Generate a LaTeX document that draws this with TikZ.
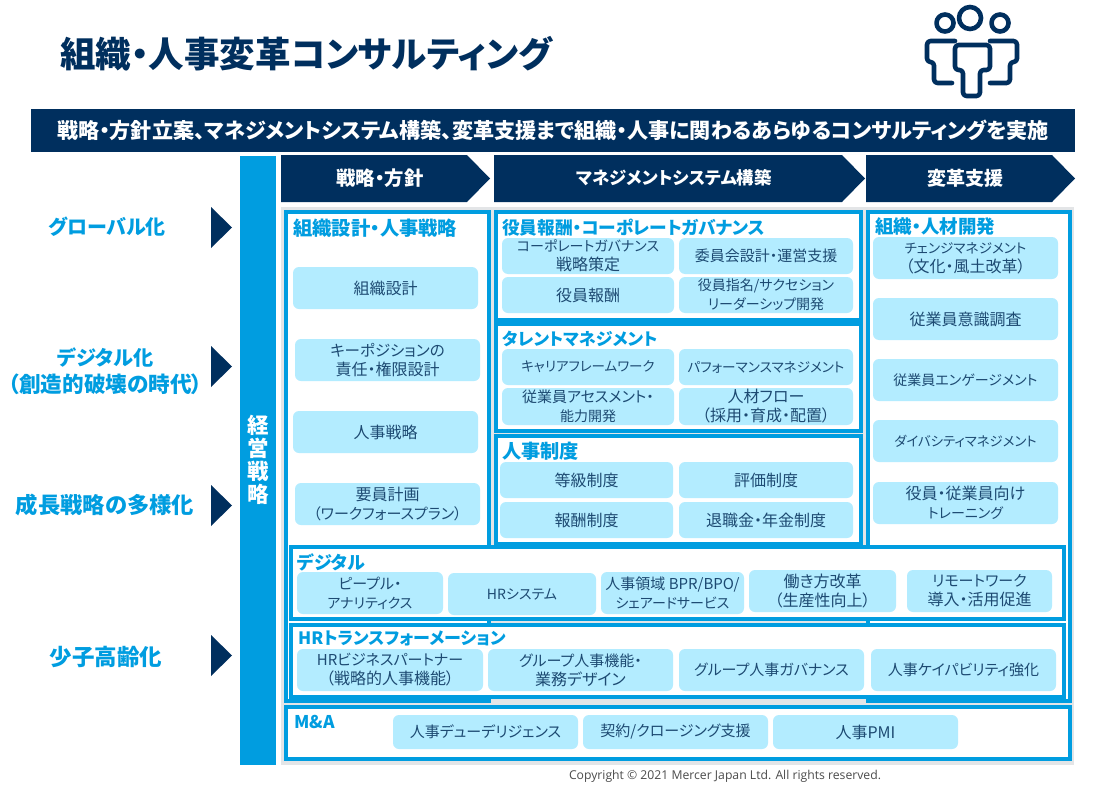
\documentclass[tikz,border=0pt]{standalone}
\usepackage{fontspec}
\setmainfont{Noto Sans CJK JP}[RawFeature=+palt]
\newfontfamily\copyfont{Open Sans}
\definecolor{navy}{HTML}{002F5E}
\definecolor{mblue}{HTML}{009DE0}
\definecolor{lblue}{HTML}{B3ECFF}
\definecolor{ctext}{HTML}{1D4A72}
\definecolor{greybg}{HTML}{E3E5E7}
\newcommand\kj{\fontsize{16}{19}\selectfont}
\newcommand\mx{\fontsize{15}{19}\selectfont}
\newcommand\tk[1]{\fontsize{#1}{20}\selectfont}
\newcommand\dk[1]{\fontsize{#1}{27}\selectfont}
\tikzset{
  cardst/.style={fill=lblue,rounded corners=6pt,inner sep=0pt,outer sep=0pt,text=ctext,align=center,font=\fontsize{14}{19}\selectfont},
  panelst/.style={draw=mblue,line width=3.4pt,fill=white,inner sep=0pt,outer sep=0pt},
  ptitle/.style={anchor=west,inner sep=0pt,text=mblue,font=\bfseries},
  hdr/.style={text=white,inner sep=0pt,font=\bfseries},
  drv/.style={text=mblue,inner sep=0pt,align=center,font=\bfseries},
  tri/.style={fill=navy},
  icon/.style={draw=navy,line width=4.6pt,line join=round,line cap=round,rounded corners=3.5pt},
}
\newcommand\card[6]{\node[cardst,minimum width={(#4-#2)*1pt},minimum height={(#5-#3)*1pt}] (#1) at ({(#2+#4)/2},{(#3+#5)/2}) {#6};}
\newcommand\panel[5]{\node[panelst,minimum width={(#4-#2)*1pt},minimum height={(#5-#3)*1pt}] (#1) at ({(#2+#4)/2},{(#3+#5)/2}) {};}
\newcommand\chev[6]{\fill[navy] (#2,155) -- (#3,155) -- (#4,178.5) -- (#3,202) -- (#2,202) -- cycle; \node[hdr,font=\fontsize{#5}{20}\selectfont\bfseries] (#1) at ({(#2+#3)/2+6},178) {#6};}
\newcommand\tria[2]{\fill[tri] (211,#2-20.5) -- (232,#2) -- (211,#2+20.5) -- cycle;}
\begin{document}
\begin{tikzpicture}[x=1pt,y=-1pt]
\useasboundingbox (0,0) rectangle (1100,795);
\fill[white] (0,0) rectangle (1100,795);
% title
\node[anchor=west,inner sep=0pt,text=navy,font=\fontsize{35.5}{38}\selectfont\bfseries] (title) at (60,54) {組織・人事変革コンサルティング};
% icon
\draw[icon] (945,23) circle (8.5);
\draw[icon] (970,18) circle (11);
\draw[icon] (1000,23) circle (8.5);
\draw[icon] (952,83) -- (934,83) -- (934,62) -- (927,62) -- (927,41) -- (955,41);
\draw[icon] (990,83) -- (1010,83) -- (1010,62) -- (1017,62) -- (1017,41) -- (990,41);
\draw[icon] (963,70) -- (955,70) -- (955,45) -- (990,45) -- (990,70) -- (980,70) -- (980,96) -- (963,96) -- cycle;
% banner
\fill[navy] (31,109) rectangle (1075,152);
\node[text=white,inner sep=0pt,font=\fontsize{21.1}{24}\selectfont\bfseries] (banner) at (553,130.5) {戦略・方針立案、マネジメントシステム構築、変革支援まで組織・人事に関わるあらゆるコンサルティングを実施};
% drivers
\node[drv,font=\dk{20}\bfseries] (d1) at (107,227) {グローバル化};
\tria{t1}{227.5}
\node[drv,font=\dk{21.6}\bfseries] (d2) at (105.5,371.5) {\dk{20.2}デジタル化\\（創造的破壊の時代）};
\tria{t2}{366.5}
\node[drv,font=\dk{22.3}\bfseries] (d3) at (105,505) {成長戦略の多様化};
\tria{t3}{505.5}
\node[drv,font=\dk{22.5}\bfseries] (d4) at (106,657) {少子高齢化};
\tria{t4}{655.5}
% strategy column
\fill[mblue] (240,156) rectangle (276,765);
\node[text=white,inner sep=0pt,align=center,font=\fontsize{21.5}{23}\selectfont\bfseries] (keiei) at (258,460) {経\\営\\戦\\略};
% chevrons
\chev{c1}{281}{467}{490}{19.4}{戦略・方針}
\chev{c2}{494}{842}{865}{17.4}{マネジメントシステム構築}
\chev{c3}{866}{1052}{1075}{19}{変革支援}
% grey ground
\fill[greybg] (281,207) rectangle (1074,765);
% large panels
\panel{pleft}{286}{212}{489}{701}
\panel{pright}{868}{212}{1070}{701}
\fill[greybg] (491,547) rectangle (866,703);
\panel{p1}{496}{212}{861}{320}
\panel{p2}{496}{324}{861}{431}
\panel{p3}{496}{436}{861}{544}
\panel{pdig}{291}{547}{1064}{619}
\panel{phr}{291}{625}{1064}{697}
\panel{pma}{286}{707}{1070}{759}
% titles
\node[ptitle,font=\tk{19.3}\bfseries] (tl) at (293,228) {組織設計・人事戦略};
\node[ptitle,font=\tk{17.7}\bfseries] (t1a) at (502,228) {役員報酬・コーポレートガバナンス};
\node[ptitle,font=\tk{17}\bfseries] (t2a) at (502,339) {タレントマネジメント};
\node[ptitle,font=\tk{19.2}\bfseries] (t3a) at (502,451) {人事制度};
\node[ptitle,font=\tk{18.5}\bfseries] (tr) at (875,227) {組織・人材開発};
\node[ptitle,font=\tk{18}\bfseries] (td) at (297,562) {デジタル};
\node[ptitle,font=\tk{17}\bfseries] (th) at (298,638) {HRトランスフォーメーション};
\node[ptitle,font=\tk{17.5}\bfseries] (tm) at (294,722) {M\&A};
% left cards
\card{a1}{293}{267}{478}{309}{\kj 組織設計}
\card{a2}{295}{339}{480}{381}{\fontsize{15.5}{19}\selectfont キーポジションの\\\kj 責任・権限設計}
\card{a3}{293}{411}{478}{453}{\kj 人事戦略}
\card{a4}{295}{483}{480}{525}{\kj 要員計画\\\mx（ワークフォースプラン）}
% middle cards
\card{b1}{502}{238}{674}{274}{コーポレートガバナンス\\\kj 戦略策定}
\card{b2}{679}{238}{853}{274}{\mx 委員会設計・運営支援}
\card{b3}{502}{277}{674}{313}{\kj 役員報酬}
\card{b4}{679}{277}{853}{313}{役員指名/サクセション\\リーダーシップ開発}
\card{b5}{502}{349}{674}{385}{\fontsize{13.5}{19}\selectfont キャリアフレームワーク}
\card{b6}{679}{349}{853}{385}{\fontsize{13.6}{19}\selectfont パフォーマンスマネジメント}
\card{b7}{502}{388}{674}{425}{\mx 従業員アセスメント・\\能力開発}
\card{b8}{679}{388}{853}{425}{\kj 人材フロー\\\kj（採用・育成・配置）}
\card{b9}{500}{462}{673}{498}{\kj 等級制度}
\card{b10}{679}{462}{853}{498}{\kj 評価制度}
\card{b11}{500}{502}{673}{538}{\kj 報酬制度}
\card{b12}{679}{502}{853}{538}{\kj 退職金・年金制度}
% right cards
\card{r1}{873}{237}{1058}{279}{\fontsize{13.6}{19}\selectfont チェンジマネジメント\\\kj（文化・風土改革）}
\card{r2}{873}{298}{1058}{340}{\kj 従業員意識調査}
\card{r3}{873}{359}{1058}{401}{従業員エンゲージメント}
\card{r4}{873}{420}{1058}{462}{\fontsize{13.4}{19}\selectfont ダイバシティマネジメント}
\card{r5}{873}{482}{1058}{524}{\kj 役員・従業員向け\\トレーニング}
% digital
\card{e1}{297}{572}{443}{614}{\mx ピープル・\\アナリティクス}
\card{e2}{448}{573}{596}{615}{HRシステム}
\card{e3}{601}{572}{744}{614}{\mx 人事領域 BPR/BPO/\\シェアードサービス}
\card{e4}{749}{570}{896}{612}{\kj 働き方改革\\\kj（生産性向上）}
\card{e5}{907}{570}{1052}{612}{\mx リモートワーク\\\kj 導入・活用促進}
% HR
\card{f1}{297}{649}{483}{691}{\mx HRビジネスパートナー\\\kj（戦略的人事機能）}
\card{f2}{488}{649}{673}{691}{\mx グループ人事機能・\\\kj 業務デザイン}
\card{f3}{679}{649}{864}{691}{\mx グループ人事ガバナンス}
\card{f4}{871}{649}{1056}{691}{\mx 人事ケイパビリティ強化}
% M&A
\card{g1}{393}{715}{578}{749}{\mx 人事デューデリジェンス}
\card{g2}{583}{715}{768}{749}{\mx 契約/クロージング支援}
\card{g3}{773}{715}{958}{749}{\kj 人事PMI}
% copyright
\node[inner sep=0pt,text=black!70,font=\copyfont\fontsize{12.2}{14}\selectfont] (copy) at (725,776) {Copyright © 2021 Mercer Japan Ltd. All rights reserved.};
\end{tikzpicture}
\end{document}
